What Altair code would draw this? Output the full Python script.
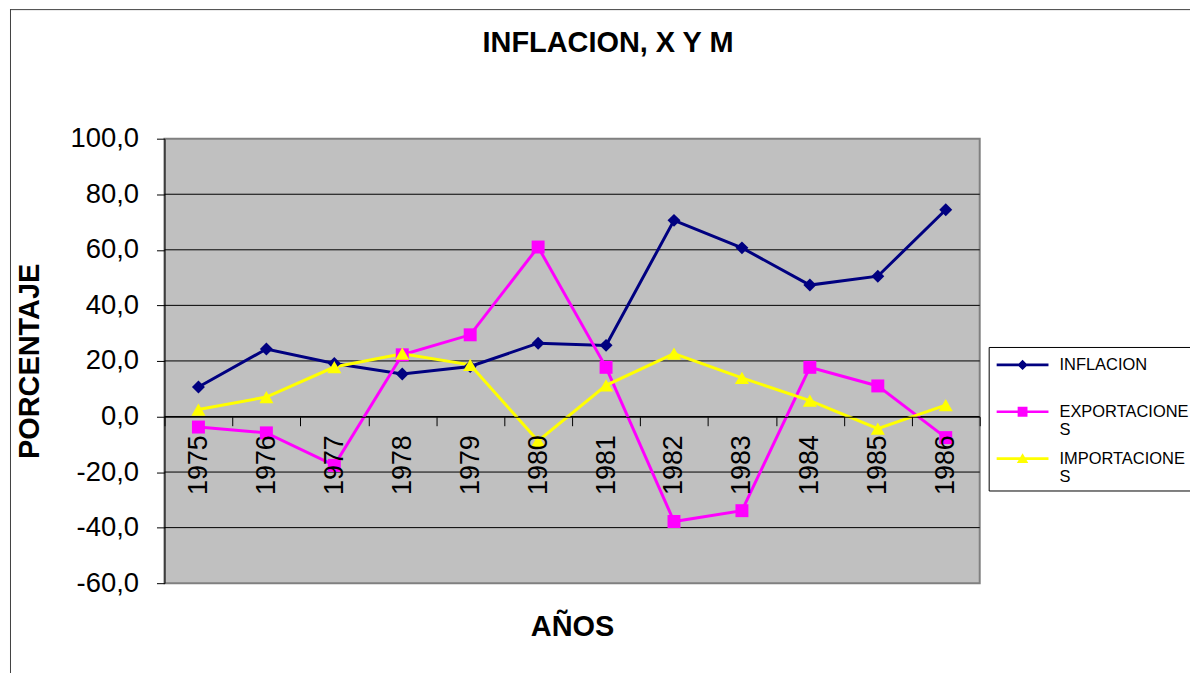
import altair as alt
import pandas as pd

anios = ["1975", "1976", "1977", "1978", "1979", "1980",
         "1981", "1982", "1983", "1984", "1985", "1986"]
inflacion = [10.6, 24.3, 19.1, 15.3, 18.0, 26.4, 25.6, 70.6, 60.7, 47.3, 50.5, 74.4]
exportaciones = [-3.8, -5.9, -17.6, 22.2, 29.4, 61.0, 17.7, -37.8, -33.9, 17.7, 11.0, -7.6]
importaciones = [2.5, 7.0, 17.8, 22.6, 18.6, -8.8, 11.2, 22.6, 13.9, 5.7, -4.4, 4.1]
series = ["INFLACION", "EXPORTACIONES", "IMPORTACIONES"]
colores = ["#000080", "#FF00FF", "#FFFF00"]
y_ticks = [-60, -40, -20, 0, 20, 40, 60, 80, 100]

rows = []
for s, vals in zip(series, [inflacion, exportaciones, importaciones]):
    for a, v in zip(anios, vals):
        rows.append({"anio": a, "serie": s, "valor": v})
df = pd.DataFrame(rows)
grid_df = pd.DataFrame({"valor": y_ticks})

FONT = "Liberation Sans"
W, H = 818, 446

formas = ["diamond", "square", "triangle-up"]
tamanos = [169, 169, 200]
# legend symbols: line segment + marker (custom paths, 13 px per unit)
leg_paths = [
    "M-2,-0.1L2,-0.1L2,0.1L-2,0.1Z M0,-0.4L0.4,0L0,0.4L-0.4,0Z",
    "M-2,-0.1L2,-0.1L2,0.1L-2,0.1Z M-0.38,-0.38L0.38,-0.38L0.38,0.38L-0.38,0.38Z",
    "M-2,-0.1L2,-0.1L2,0.1L-2,0.1Z M0,-0.42L0.44,0.34L-0.44,0.34Z",
]

color_scale = alt.Scale(domain=series, range=colores)
y_scale = alt.Scale(domain=[-60, 100], nice=False, zero=False)

x_axis = alt.Axis(
    title="AÑOS", labelAngle=-90, offset=-167, tickBand="extent",
    tickSize=9, tickColor="black", domainColor="black", grid=False,
    labelFontSize=27, labelPadding=9, labelColor="black",
    titleFontSize=29, titleFontWeight="bold", titleY=211,
    titleBaseline="middle", zindex=1,
)
y_axis = alt.Axis(
    values=y_ticks, title="PORCENTAJE", grid=False,
    labelExpr="replace(replace(format(datum.value, '.1f'), '.', ','), '\u2212', '-')",
    tickSize=8, tickColor="black", domainColor="black",
    labelFontSize=27.5, labelPadding=18, labelColor="black",
    titleFontSize=29, titleFontWeight="bold", titleX=-135,
    titleBaseline="middle", zindex=1,
)

x_enc = alt.X(
    "anio:O", sort=anios,
    scale=alt.Scale(type="band", paddingInner=0, paddingOuter=0),
    bandPosition=0.5, axis=x_axis,
)
y_enc = alt.Y("valor:Q", scale=y_scale, axis=y_axis)

base = alt.Chart(df)
marco_df = pd.DataFrame({"k": [0]})

fondo = alt.Chart(marco_df).mark_rect(
    fill="#C0C0C0", stroke="#808080", strokeWidth=2
).encode(x=alt.value(0), x2=alt.value("width"), y=alt.value(0), y2=alt.value("height"))

rejilla = alt.Chart(grid_df).transform_filter(
    "datum.valor > -60 && datum.valor < 100"
).mark_rule(color="black", strokeWidth=1).encode(
    y=y_enc, x=alt.value(0), x2=alt.value("width"),
)

lineas = []
puntos = []
for s, c, f, t in zip(series, colores, formas, tamanos):
    sub = base.transform_filter(alt.datum.serie == s)
    lineas.append(sub.mark_line(strokeWidth=3, color=c).encode(x=x_enc, y=y_enc))
    puntos.append(sub.mark_point(filled=True, shape=f, size=t, opacity=1, color=c)
                  .encode(x=x_enc, y=y_enc))

leg_def = dict(
    title=None, orient="none", legendX=827, legendY=209, direction="vertical",
    labelFont=FONT, labelFontSize=16.5, labelColor="black",
    labelOffset=24, symbolOffset=16,
    labelBaseline="middle", labelLimit=400,
    labelExpr="datum.label == 'INFLACION' ? [datum.label, ''] : [substring(datum.label, 0, 12), substring(datum.label, 12)]",
    symbolSize=676, symbolStrokeWidth=0, symbolOpacity=1,
    padding=5, strokeColor="black", fillColor="white", rowPadding=7,
)

leyenda = base.transform_filter("false").mark_point(filled=True, opacity=1).encode(
    color=alt.Color("serie:N", scale=color_scale, legend=alt.Legend(**leg_def)),
    shape=alt.Shape("serie:N", scale=alt.Scale(domain=series, range=leg_paths),
                    legend=alt.Legend(**leg_def)),
)

marco_izq = alt.Chart(marco_df).mark_rule(color="#404040", strokeWidth=1).encode(
    x=alt.value(-154.5), y=alt.value(-130), y2=alt.value(560))
marco_sup = alt.Chart(marco_df).mark_rule(color="#404040", strokeWidth=1).encode(
    x=alt.value(-155), x2=alt.value(1040), y=alt.value(-129.5))

chart = alt.layer(
    marco_izq, marco_sup, fondo, rejilla, *lineas, *puntos, leyenda
).properties(
    width=W, height=H,
    autosize=alt.AutoSizeParams(type="none"),
    padding={"left": 157, "top": 130, "right": 211, "bottom": 89},
    title=alt.Title("INFLACION, X Y M", font=FONT, fontSize=29, fontWeight="bold",
                    color="black", anchor="middle", frame="group", offset=-72.5,
                    baseline="alphabetic", dx=36),
).configure_view(
    stroke=None
).configure_axis(
    labelFont=FONT, titleFont=FONT, titleColor="black"
)

chart.save("out.html", embed_options={"renderer": "svg", "actions": False})
